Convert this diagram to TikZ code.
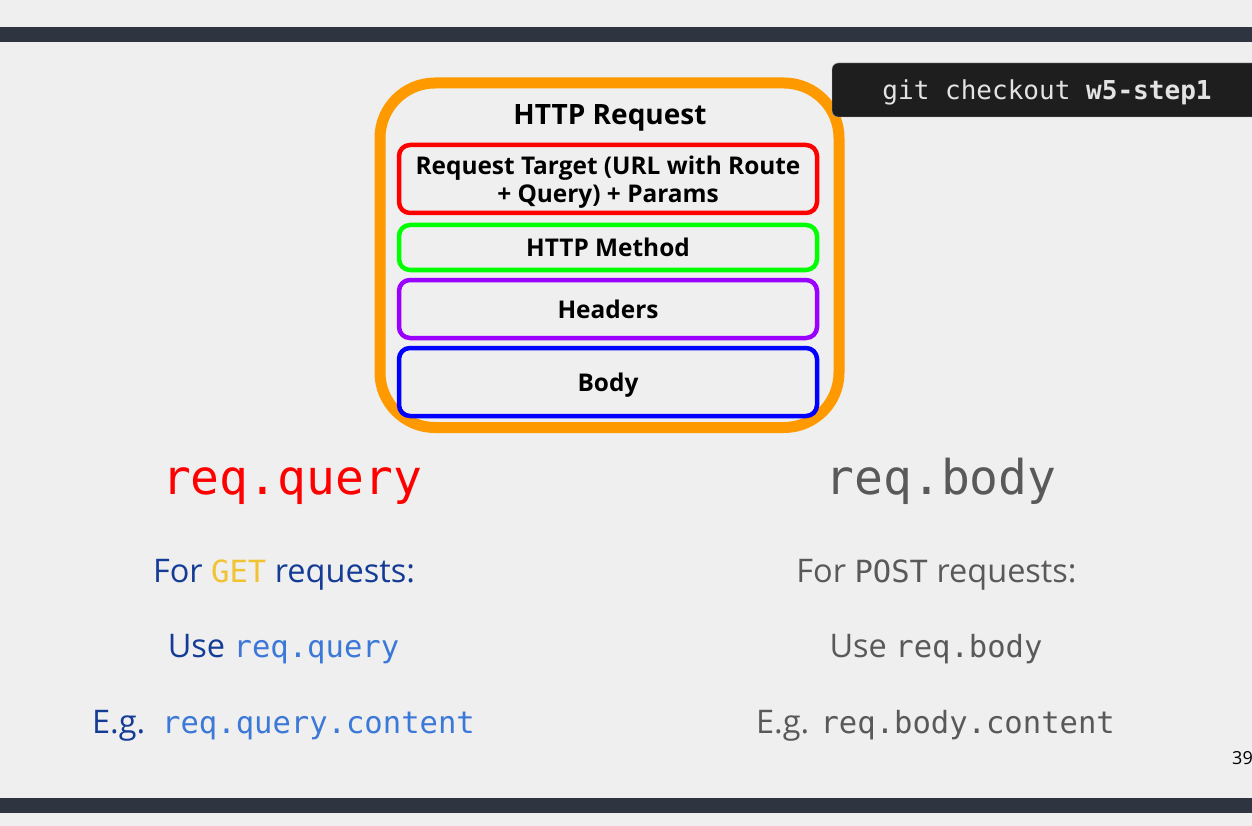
\documentclass[tikz,border=0pt]{standalone}
\usepackage{fontspec}
\setmainfont{Open Sans}
\setmonofont[Scale=0.94]{DejaVu Sans Mono}
\definecolor{slidebg}{HTML}{EFEFEF}
\definecolor{slidebar}{HTML}{2E3440}
\definecolor{gitbg}{HTML}{1E1E1E}
\definecolor{gittext}{HTML}{E3E3E3}
\definecolor{reqorange}{HTML}{FF9900}
\definecolor{partred}{HTML}{FF0000}
\definecolor{partgreen}{HTML}{00FF00}
\definecolor{partpurple}{HTML}{9900FF}
\definecolor{partblue}{HTML}{0000FF}
\definecolor{navytext}{RGB}{20,60,150}
\definecolor{getyellow}{HTML}{F1C232}
\definecolor{codeblue}{HTML}{3C78D8}
\definecolor{codegray}{HTML}{595959}
\usepackage{tikz}

\begin{document}
\begin{tikzpicture}[x=1pt, y=-1pt,
			part/.style={draw, line width=4.5pt, rounded corners=11pt,
				minimum width=418pt, inner sep=0pt, align=center, text depth=0pt,
				font=\fontsize{24.4}{28.5}\selectfont\bfseries},
			bigcode/.style={anchor=base, font=\fontsize{51}{54}\selectfont\ttfamily},
			note/.style={anchor=base, font=\fontsize{32.5}{38}\selectfont}
		]
			\fill[slidebg] (0,0) rectangle (1252,826);
			\useasboundingbox (0,0) rectangle (1252,826);
			\fill[slidebar] (0,27) rectangle (1252,42);
			\fill[slidebar] (0,798) rectangle (1252,813);
			\node[draw=reqorange, line width=11pt, rounded corners=55pt, minimum width=459pt,
				minimum height=344.5pt, inner sep=0pt] (request) at (609.5,255.25) {};
			\draw[gray!60, fill=gitbg, rounded corners=6pt] (832,63) rectangle (1275,117);
			\node[anchor=base, text=gittext, font=\fontsize{27.7}{30}\selectfont\ttfamily] (git) at (1047,100) {git checkout \textbf{w5-step1}};
			\node[anchor=base, font=\fontsize{28}{30}\selectfont\bfseries] (title) at (610,125) {HTTP Request};
			\node[part, draw=partred, minimum height=68pt] (target) at (608,179) {Request Target (URL with Route\\+ Query) + Params};
			\node[part, draw=partgreen, minimum height=45pt] (method) at (608,247.5) {HTTP Method};
			\node[part, draw=partpurple, minimum height=58pt] (headers) at (608,309) {Headers};
			\node[part, draw=partblue, minimum height=68pt] (body) at (608,382) {Body};
			\node[bigcode, text=partred] (query) at (292,494) {req.query};
			\node[bigcode, text=codegray] (bodycode) at (941,494) {req.body};
			\node[note, text=navytext] (getfor) at (284,582) {For \texttt{\color{getyellow}GET} requests:};
			\node[note, text=navytext] (getuse) at (283.5,657) {Use \texttt{\color{codeblue}req.query}};
			\node[note, text=navytext] (getex) at (283.5,733) {E.g.\ \ \texttt{\color{codeblue}req.query.content}};
			\node[note, text=codegray] (postfor) at (936.5,582) {For \texttt{POST} requests:};
			\node[note, text=codegray] (postuse) at (936,657) {Use \texttt{req.body}};
			\node[note, text=codegray] (postex) at (935.5,733) {E.g. \texttt{req.body.content}};
			\node[anchor=base west, inner sep=0pt, font=\fontsize{18}{20}\selectfont] (pagenum) at (1232,764) {39};
		\end{tikzpicture}
\end{document}
